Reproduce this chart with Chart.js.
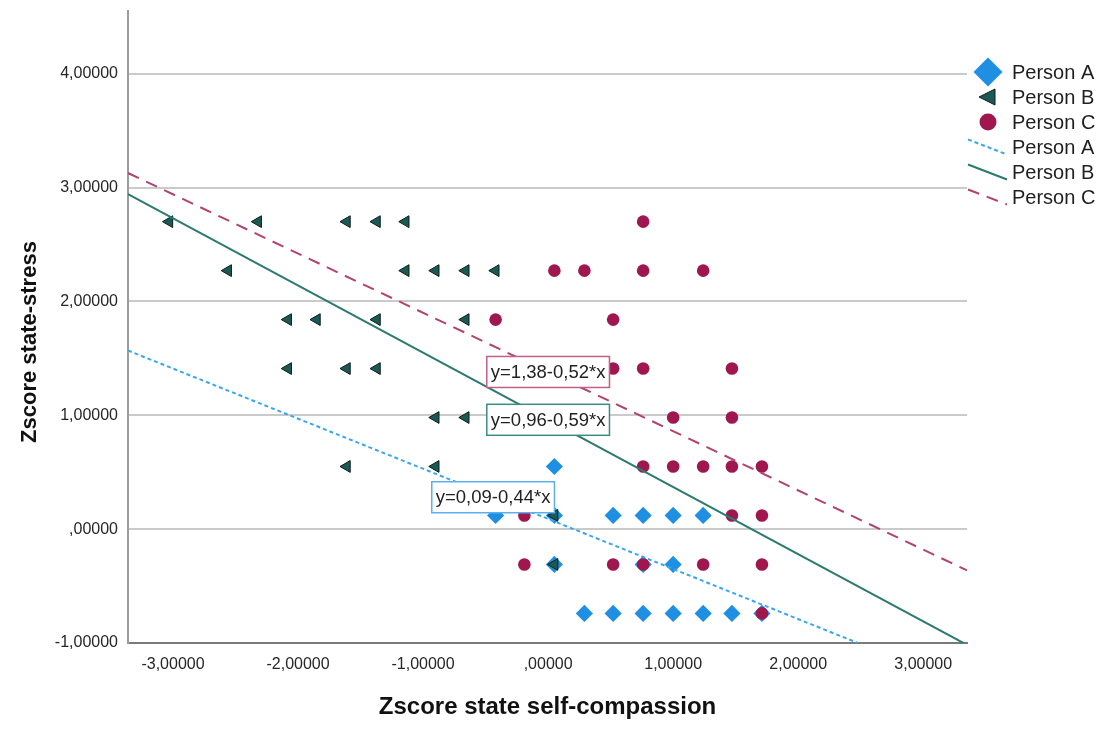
<!DOCTYPE html>
<html>
<head>
<meta charset="utf-8">
<title>Zscore state-stress vs Zscore state self-compassion</title>
<script src="https://cdn.jsdelivr.net/npm/chart.js@4.4.0/dist/chart.umd.min.js"></script>
<style>
  html, body { margin: 0; padding: 0; background: #ffffff; }
  #wrap { width: 1102px; height: 729px; position: relative; }
</style>
</head>
<body>
<div id="wrap"><canvas id="chart" width="1102" height="729"></canvas></div>
<script>
// ---- data ----
const seriesNames = ['Person A', 'Person B', 'Person C'];

const personAX = [0.05, -0.42, 0.05, 0.52, 0.76, 1.00, 1.24, 0.05, 0.76, 1.00, 0.29, 0.52, 0.76, 1.00, 1.24, 1.47, 1.71];
const personAY = [0.55, 0.12, 0.12, 0.12, 0.12, 0.12, 0.12, -0.31, -0.31, -0.31, -0.74, -0.74, -0.74, -0.74, -0.74, -0.74, -0.74];

const personBX = [-3.03, -2.32, -1.61, -1.37, -1.14,
                  -2.56, -1.14, -0.90, -0.66, -0.42,
                  -2.08, -1.85, -1.37, -0.66,
                  -2.08, -1.61, -1.37,
                  -0.90, -0.66,
                  -1.61, -0.90,
                  0.05,
                  0.05];
const personBY = [2.70, 2.70, 2.70, 2.70, 2.70,
                  2.27, 2.27, 2.27, 2.27, 2.27,
                  1.84, 1.84, 1.84, 1.84,
                  1.41, 1.41, 1.41,
                  0.98, 0.98,
                  0.55, 0.55,
                  0.12,
                  -0.31];

const personCX = [0.76,
                  0.05, 0.29, 0.76, 1.24,
                  -0.42, 0.52,
                  0.52, 0.76, 1.47,
                  1.00, 1.47,
                  0.76, 1.00, 1.24, 1.47, 1.71,
                  -0.19, 1.47, 1.71,
                  -0.19, 0.52, 0.76, 1.24, 1.71,
                  1.71];
const personCY = [2.70,
                  2.27, 2.27, 2.27, 2.27,
                  1.84, 1.84,
                  1.41, 1.41, 1.41,
                  0.98, 0.98,
                  0.55, 0.55, 0.55, 0.55, 0.55,
                  0.12, 0.12, 0.12,
                  -0.31, -0.31, -0.31, -0.31, -0.31,
                  -0.74];

// fitted lines y = a + b*x, one per person
const fitIntercepts = [0.09, 0.96, 1.38];
const fitSlopes = [-0.44, -0.59, -0.52];
// where each equation box is anchored (data units)
const fitLabelX = [-0.44, 0.00, 0.00];
const fitLabelY = [0.28, 0.96, 1.38];

// axes
const xRange = [-3.36, 3.35];
const yRange = [-1.00, 4.55];
const xTickValues = [-3, -2, -1, 0, 1, 2, 3];
const xTickLabels = ['-3,00000', '-2,00000', '-1,00000', ',00000', '1,00000', '2,00000', '3,00000'];
const yTickValues = [-1, 0, 1, 2, 3, 4];
const yTickLabels = ['-1,00000', ',00000', '1,00000', '2,00000', '3,00000', '4,00000'];
const xTitle = 'Zscore state self-compassion';
const yTitle = 'Zscore state-stress';

// ---- styles ----
const FONT = '"Liberation Sans", Arial, Helvetica, sans-serif';
const markerColors = ['#1e8fe3', '#1b5a54', '#a0174f'];
const lineColors = ['#3aa6f2', '#2b7a70', '#b3426f'];
const lineDashes = [[4, 3], [], [12, 8]];
const boxColors = ['#58b0f0', '#3b8c82', '#bf6088'];

const zip = (xs, ys) => xs.map((v, i) => ({ x: v, y: ys[i] }));
const fmt = v => Math.abs(v).toFixed(2).replace('.', ',');
const eqText = i => 'y=' + fmt(fitIntercepts[i]) + (fitSlopes[i] < 0 ? '-' : '+') + fmt(fitSlopes[i]) + '*x';
const fitPoints = i => [
  { x: xRange[0], y: fitIntercepts[i] + fitSlopes[i] * xRange[0] },
  { x: xRange[1], y: fitIntercepts[i] + fitSlopes[i] * xRange[1] }
];

const datasets = [
  // fitted lines on top of the markers
  ...[0, 1, 2].map(i => ({
    label: seriesNames[i] + ' fit',
    data: fitPoints(i),
    showLine: true,
    pointRadius: 0,
    borderColor: lineColors[i],
    borderWidth: 2,
    borderDash: lineDashes[i],
    fill: false,
    order: 0
  })),
  {
    label: seriesNames[2], data: zip(personCX, personCY),
    pointStyle: 'circle', pointRadius: 6.3,
    backgroundColor: markerColors[2], borderColor: markerColors[2], borderWidth: 0,
    order: 1
  },
  {
    label: seriesNames[1], data: zip(personBX, personBY),
    pointStyle: 'triangle', rotation: -90, pointRadius: 6.8,
    backgroundColor: markerColors[1], borderColor: '#0e1d1b', borderWidth: 1,
    order: 2
  },
  {
    label: seriesNames[0], data: zip(personAX, personAY),
    pointStyle: 'rectRot', pointRadius: 8.6,
    backgroundColor: markerColors[0], borderColor: markerColors[0], borderWidth: 0,
    order: 3
  }
];

// equation boxes, y-axis title and the legend
const overlay = {
  id: 'overlay',
  afterDatasetsDraw(chart) {
    const { ctx, scales: { x, y } } = chart;
    ctx.save();
    ctx.font = '18.5px ' + FONT;
    ctx.textAlign = 'center';
    ctx.textBaseline = 'middle';
    for (let i = 0; i < 3; i++) {
      const px = x.getPixelForValue(fitLabelX[i]);
      const py = y.getPixelForValue(fitLabelY[i]);
      const t = eqText(i);
      const w = ctx.measureText(t).width + 8;
      const h = 31;
      ctx.fillStyle = '#ffffff';
      ctx.fillRect(px - w / 2, py - h / 2, w, h);
      ctx.strokeStyle = boxColors[i];
      ctx.lineWidth = 1.5;
      ctx.strokeRect(px - w / 2, py - h / 2, w, h);
      ctx.fillStyle = '#222222';
      ctx.fillText(t, px, py + 1);
    }
    ctx.restore();
  },
  afterDraw(chart) {
    const { ctx } = chart;
    ctx.save();
    // y-axis title
    ctx.translate(30, 342);
    ctx.rotate(-Math.PI / 2);
    ctx.font = 'bold 22px ' + FONT;
    ctx.fillStyle = '#111111';
    ctx.textAlign = 'center';
    ctx.textBaseline = 'middle';
    ctx.fillText(yTitle, 0, 0);
    ctx.restore();

    // legend
    ctx.save();
    const mx = 988, tx = 1012;
    const rows = [72, 97, 122, 147.5, 172.5, 197.5];
    ctx.font = '20px ' + FONT;
    ctx.textAlign = 'left';
    ctx.textBaseline = 'middle';
    // diamond
    let cy = rows[0];
    ctx.fillStyle = markerColors[0];
    ctx.beginPath();
    ctx.moveTo(mx, cy - 14.5); ctx.lineTo(mx + 14.5, cy); ctx.lineTo(mx, cy + 14.5); ctx.lineTo(mx - 14.5, cy);
    ctx.closePath(); ctx.fill();
    // triangle
    cy = rows[1];
    ctx.fillStyle = markerColors[1];
    ctx.strokeStyle = '#0e1d1b';
    ctx.lineWidth = 1;
    ctx.beginPath();
    ctx.moveTo(mx - 9, cy); ctx.lineTo(mx + 7, cy - 8); ctx.lineTo(mx + 7, cy + 8);
    ctx.closePath(); ctx.fill(); ctx.stroke();
    // circle
    cy = rows[2];
    ctx.fillStyle = markerColors[2];
    ctx.beginPath();
    ctx.arc(mx, cy, 8.5, 0, Math.PI * 2);
    ctx.fill();
    // line samples
    for (let i = 0; i < 3; i++) {
      cy = rows[3 + i];
      ctx.strokeStyle = lineColors[i];
      ctx.lineWidth = 2;
      ctx.setLineDash(lineDashes[i]);
      ctx.beginPath();
      ctx.moveTo(968, cy - 8);
      ctx.lineTo(1007, cy + 7);
      ctx.stroke();
    }
    ctx.setLineDash([]);
    ctx.fillStyle = '#1f1f1f';
    for (let r = 0; r < 6; r++) {
      ctx.fillText(seriesNames[r % 3], tx, rows[r] + 1);
    }
    ctx.restore();
  }
};

new Chart(document.getElementById('chart'), {
  type: 'scatter',
  data: { datasets },
  plugins: [overlay],
  options: {
    responsive: false,
    animation: false,
    devicePixelRatio: 1,
    layout: { autoPadding: false, padding: { top: 11, right: 135, bottom: 0, left: 0 } },
    plugins: { legend: { display: false }, tooltip: { enabled: false } },
    scales: {
      x: {
        type: 'linear',
        min: xRange[0], max: xRange[1],
        afterBuildTicks: s => { s.ticks = xTickValues.map(v => ({ value: v })); },
        afterFit: s => { s.height = 86; s.paddingLeft = 0; s.paddingRight = 0; },
        ticks: {
          autoSkip: false, maxRotation: 0, padding: 12,
          color: '#262626', font: { family: FONT, size: 16 },
          callback: v => xTickLabels[xTickValues.indexOf(v)]
        },
        grid: { display: false, drawTicks: false },
        border: { display: true, color: '#7a7a7a', width: 2 },
        title: {
          display: true, text: xTitle, color: '#111111',
          font: { family: FONT, size: 24, weight: 'bold' },
          padding: { top: 0, bottom: 7 }
        }
      },
      y: {
        type: 'linear',
        min: yRange[0], max: yRange[1],
        afterBuildTicks: s => { s.ticks = yTickValues.map(v => ({ value: v })); },
        afterFit: s => { s.width = 128; s.paddingTop = 0; s.paddingBottom = 0; },
        ticks: {
          autoSkip: false, padding: 10,
          color: '#262626', font: { family: FONT, size: 16 },
          callback: v => yTickLabels[yTickValues.indexOf(v)]
        },
        grid: { color: '#cacaca', lineWidth: 2, drawTicks: false },
        border: { display: true, color: '#9c9c9c', width: 2 }
      }
    }
  }
});
</script>
</body>
</html>
